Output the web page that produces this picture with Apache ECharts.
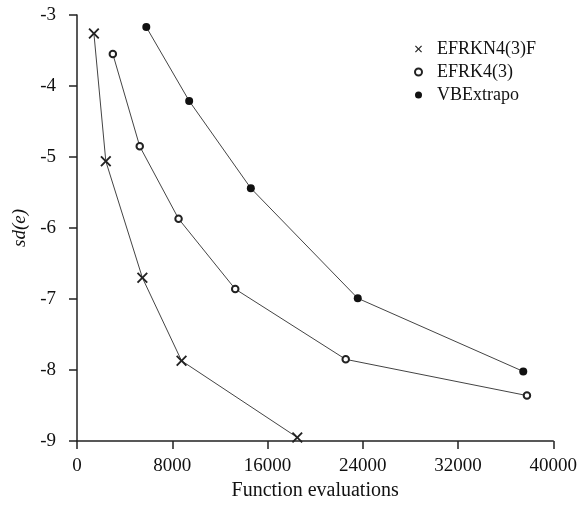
<!DOCTYPE html>
<html>
<head>
<meta charset="utf-8">
<script src="https://cdn.jsdelivr.net/npm/echarts@6/dist/echarts.min.js"></script>
<style>html,body{margin:0;padding:0;background:#fff}#c{width:580px;height:506px}</style>
</head>
<body>
<div id="c"></div>
<script>
const seriesNames = ['EFRKN4(3)F', 'EFRK4(3)', 'VBExtrapo'];
const efrkn_x = [1420, 2420, 5490, 8780, 18500];
const efrkn_y = [-3.26, -5.06, -6.70, -7.87, -8.95];
const efrk_x = [3010, 5270, 8530, 13290, 22570, 37790];
const efrk_y = [-3.55, -4.85, -5.87, -6.86, -7.85, -8.36];
const vbe_x = [5820, 9420, 14600, 23580, 37480];
const vbe_y = [-3.17, -4.21, -5.44, -6.99, -8.02];
const xTicks = [0, 8000, 16000, 24000, 32000, 40000];
const yTicks = [-9, -8, -7, -6, -5, -4, -3];

const crossPath = 'path://M0,1.2 L1.2,0 L5,3.8 L8.8,0 L10,1.2 L6.2,5 L10,8.8 L8.8,10 L5,6.2 L1.2,10 L0,8.8 L3.8,5 Z';
const font = 'Liberation Serif';
const pair = (xs, ys) => xs.map((v, i) => [v, ys[i]]);

const chart = echarts.init(document.getElementById('c'), null, {renderer: 'canvas'});
chart.setOption({
  animation: false,
  backgroundColor: '#fff',
  textStyle: {fontFamily: font, color: '#111'},
  grid: {left: 77, right: 24.5, top: 15, bottom: 63, containLabel: false},
  legend: {
    orient: 'vertical',
    left: 409,
    top: 35,
    itemWidth: 7,
    itemHeight: 7,
    itemGap: 5,
    textStyle: {fontFamily: font, fontSize: 18, color: '#111', padding: [0, 0, 0, 10]},
    data: [
      {name: seriesNames[0], icon: crossPath, itemStyle: {color: '#222', borderWidth: 0}},
      {name: seriesNames[1], icon: 'emptyCircle', itemStyle: {color: '#222', borderColor: '#222', borderWidth: 1}},
      {name: seriesNames[2], icon: 'circle', itemStyle: {color: '#111'}}
    ]
  },
  xAxis: {
    type: 'value',
    min: xTicks[0],
    max: xTicks[xTicks.length - 1],
    interval: 8000,
    name: 'Function evaluations',
    nameLocation: 'middle',
    nameGap: 40,
    nameTextStyle: {fontFamily: font, fontSize: 20, color: '#111'},
    axisLine: {show: true, lineStyle: {color: '#222', width: 1.5}},
    axisTick: {show: true, inside: false, length: 8, lineStyle: {color: '#222', width: 1.5}},
    axisLabel: {fontFamily: font, fontSize: 19, color: '#111', margin: 16, formatter: v => String(v)},
    splitLine: {show: false}
  },
  yAxis: {
    type: 'value',
    min: yTicks[0],
    max: yTicks[yTicks.length - 1],
    interval: 1,
    name: 'sd(e)',
    nameLocation: 'middle',
    nameGap: 47,
    nameRotate: 90,
    nameTextStyle: {fontFamily: font, fontSize: 19, fontStyle: 'italic', color: '#111'},
    axisLine: {show: true, onZero: false, lineStyle: {color: '#222', width: 1.5}},
    axisTick: {show: true, inside: false, length: 8, lineStyle: {color: '#222', width: 1.5}},
    axisLabel: {fontFamily: font, fontSize: 19, color: '#111', margin: 21, formatter: v => String(v)},
    splitLine: {show: false}
  },
  series: [
    {
      name: seriesNames[0], type: 'line',
      data: pair(efrkn_x, efrkn_y),
      symbol: crossPath, symbolSize: 11,
      lineStyle: {color: '#444', width: 1},
      itemStyle: {color: '#222', borderWidth: 0}
    },
    {
      name: seriesNames[1], type: 'line',
      data: pair(efrk_x, efrk_y),
      symbol: 'emptyCircle', symbolSize: 6.5,
      lineStyle: {color: '#444', width: 1},
      itemStyle: {color: '#222', borderColor: '#222', borderWidth: 1}
    },
    {
      name: seriesNames[2], type: 'line',
      data: pair(vbe_x, vbe_y),
      symbol: 'circle', symbolSize: 8,
      lineStyle: {color: '#444', width: 1},
      itemStyle: {color: '#111'}
    }
  ]
});
</script>
</body>
</html>
